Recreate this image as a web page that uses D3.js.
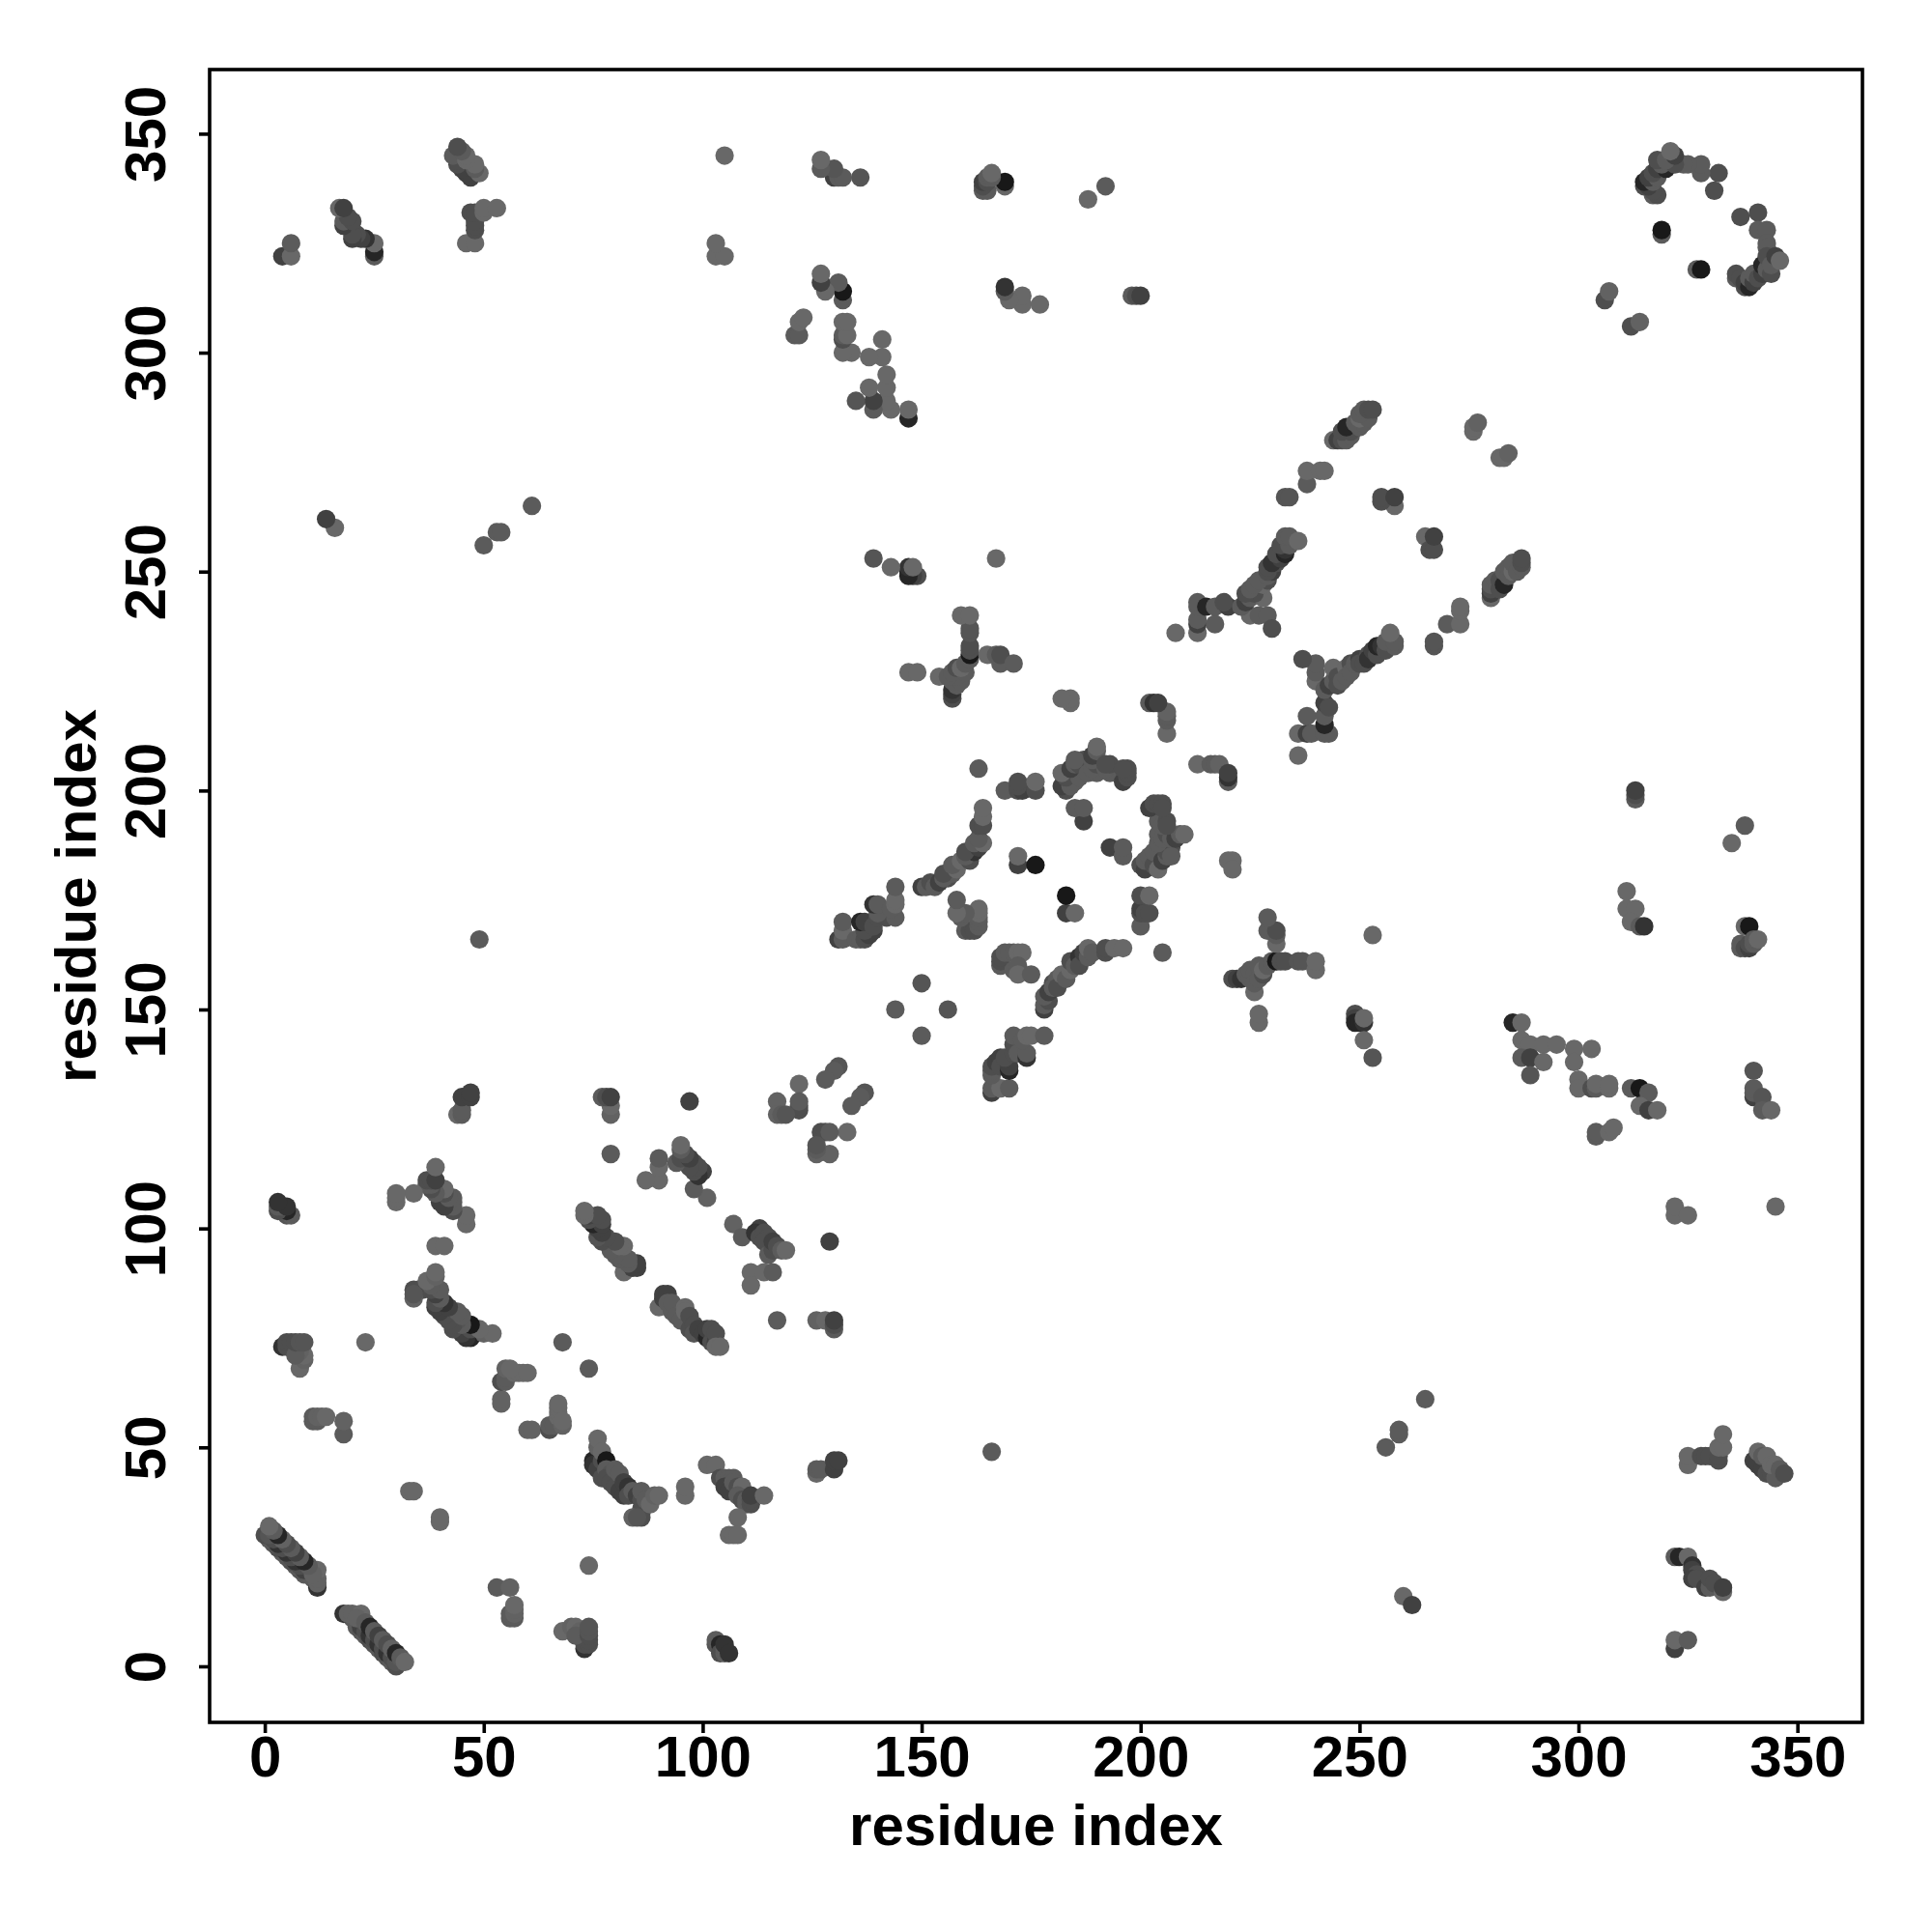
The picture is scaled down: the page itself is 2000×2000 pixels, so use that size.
<!DOCTYPE html>
<html><head><meta charset="utf-8">
<script src="https://cdn.jsdelivr.net/npm/d3@7/dist/d3.min.js"></script>
<style>html,body{margin:0;padding:0;background:#fff}svg{display:block}
text{font-family:"Liberation Sans",Arial,sans-serif;font-weight:bold;fill:#000}</style>
</head><body>
<script>
// contacts: [residue a, residue b, contact strength 1 (weak) .. 9 (strong)]
const hairpinA = [[21,9,3],[22,8,4],[23,7,3],[24,6,5],[25,5,4],[26,4,3],[27,3,5],[28,2,4],[29,1,3],[30,0,5],
 [20,11,3],[21,10,3],[22,9,6],[23,8,5],[24,7,7],[25,6,5],[26,5,7],[27,4,5],[28,3,7],[29,2,5],[30,1,4],
 [18,12,7],[19,12,2],[20,12,2],[22,12,1],[21,11,2],[23,10,3],[24,9,8],[25,8,3],[26,7,6],[27,6,3],[28,5,5],[29,4,2],[30,3,8],[31,2,3],[32,1,1]];
const tailA = [[103,5,4],[103,6,3],[104,5,8],[104,3,5],[105,3,3],[105,4,3],[105,5,7],[106,3,7],
 [73,4,7],[73,5,5],[74,5,5],[74,6,5],[68,8,1],[70,9,2],[71,9,1],[72,8,2],[71,7,3],[74,7,5],[74,8,4],[74,9,4],[74,23,1],
 [53,18,3],[56,18,2],[56,11,3],[57,11,3],[56,12,3],[57,12,2],[57,13,2],[57,14,1],[40,33,1],[40,34,1]];
const sheetB = [[75,47,8],[75,46,7],[76,45,6],[77,47,5],[76,50,2],[76,52,1],[77,49,1],[78,47,9],[77,43,5],[78,45,3],[79,44,4],[78,43,5],[79,42,5],[80,41,5],[81,40,6],[82,39,6],[80,45,3],[81,44,3],[82,42,6],[83,41,7],[83,39,5],[84,40,3],[85,39,6],[86,38,5],[86,36,5],[86,35,5],[84,34,2],[86,34,5],[85,34,4],[86,40,3],[87,38,3],[88,37,1],[89,39,2],[90,39,1],[96,39,1],[96,41,1]];
const sheetC = [[60,54,2],[61,54,2],[65,54,5],[65,55,3],[66,55,3],[67,57,1],[67,58,1],[67,59,1],[67,60,1],[68,55,2],[68,56,1],[74,68,3]];
const sheetD = [[90,82,1],[91,84,6],[91,85,6],[92,85,6],[92,83,3],[93,81,3],[93,83,3],[94,80,3],[95,79,3],[96,82,1],[96,81,1],[97,79,3],[97,77,5],[97,80,5],[98,78,5],[98,76,4],[99,77,6],[100,76,6],[101,75,8],[101,77,6],[102,74,5],[102,77,5],[103,74,6],[103,76,5],[103,73,1],[104,73,1]];
const sheetE = [[107,101,2],[109,98,3],[113,100,6],[112,99,7],[113,98,5],[114,99,5],[115,98,5],[114,97,5],[115,94,3],[116,95,5],[116,97,6],[117,96,5],[118,95,3],[119,95,1],[111,90,1],[114,90,1],[116,90,3],[111,87,1],[117,79,3],[126,79,2],[128,79,1],[130,77,3],[130,78,5],[130,79,6],[129,97,6],[126,44,1],[126,45,3],[127,45,3],[130,45,6],[130,47,6],[131,47,6],[166,49,3]];
const sheetF = [[101,46,1],[103,46,1],[104,43,5],[105,43,3],[106,43,3],[107,43,3],[105,41,6],[106,40,6],[107,42,3],[108,41,5],[109,41,1],[108,39,3],[109,38,5],[110,38,3],[110,37,3],[111,37,5],[111,38,5],[111,39,6],[114,39,1],[108,34,1],[106,30,1],[107,30,1],[108,30,1]];
const farBottom = [[265,61,3],[259,53,3],[259,54,3],[256,50,3],[260,16,1],[262,14,6],
 [325,46,1],[325,48,1],[328,48,5],[329,48,5],[330,48,5],[332,47,5],[332,48,5],[332,50,1],[333,50,1],[333,53,1],
 [340,47,6],[341,46,6],[342,45,6],[343,44,5],[344,44,5],[345,43,3],[341,49,1],[342,48,3],[343,48,1],[344,46,1],[345,46,1],[346,45,3],[347,44,5],
 [322,25,3],[323,25,8],[325,25,1],[326,23,7],[326,22,6],[327,21,5],[326,20,6],[327,20,5],[329,18,6],[330,18,3],[330,20,5],[331,19,5],[333,17,1],[333,18,6],
 [322,4,6],[322,6,1],[325,6,3]];
const smallBlock = [[137,131,4],[136,130,3],[134,128,3],[133,122,1],[127,122,5],[128,122,5],[129,122,3],[129,117,2],[126,117,2],[126,118,3],[126,119,4],[150,144,3],[156,150,4]];
const strandG = [[166,131,6],[166,132,3],[168,132,1],[170,132,3],[166,135,3],[166,136,3],[166,137,5],[167,138,6],[168,139,6],[168,137,5],[170,136,8],[170,137,6],[169,139,5],[171,140,5],[171,142,5],[172,140,3],[174,139,7],[174,140,3],[171,144,3],[173,143,3],[174,144,1],[175,144,1],[178,144,3]];
const strandH = [[178,150,6],[178,151,3],[179,152,5],[178,153,3],[179,154,6],[180,156,5],[180,155,3],[181,157,3],[181,155,5],[182,158,1],[183,157,3],[184,159,1],[184,161,5],[185,160,3],[186,162,7],[186,160,5],[187,163,6],[188,162,3],[188,164,1],[189,163,3],[192,163,5],[192,164,5],[194,164,1],[196,164,1],[205,163,3]];
const ringA = [[168,160,3],[168,161,5],[168,162,5],[169,163,3],[170,163,3],[171,163,3],[172,163,1],[173,163,1],[171,159,3],[172,160,3],[172,158,1],[175,158,3],
 [183,172,6],[185,172,1],[183,176,9],[200,169,3],[200,172,5],[200,173,6],[201,172,5],[202,172,5],[200,176,5],[202,176,1],[193,187,6],[196,185,3],[196,187,3]];
const ringB = [[200,183,5],[201,182,6],[201,184,3],[202,185,3],[203,183,5],[203,186,3],[204,182,1],[205,184,6],[206,185,3],[206,186,5],[207,187,5],[207,185,3],
 [204,188,3],[204,190,3],[205,189,3],[206,190,5],[207,189,3],[208,189,6],[209,190,3],[210,190,1],
 [204,193,3],[205,192,3],[206,193,5],[206,192,5],[202,196,6],[203,197,5],[204,197,5],[205,197,5],[205,196,5]];
const crossA = [[213,206,1],[216,206,3],[217,206,3],[218,206,2],[220,202,3],[220,203,7],[220,204,6],[220,184,1],[221,184,1],[221,182,1],
 [226,154,1],[221,157,5],[222,157,6],[223,157,7],[224,158,3],[225,157,3],[225,159,3],[226,158,3],[226,156,3],[227,157,3],[228,158,5],[227,160,3],[228,159,1],[229,160,3],[230,161,3],[231,161,9],[232,161,5],[233,161,5],[236,161,4],[237,161,4],[240,159,1],[240,161,1],
 [231,165,1],[229,168,3],[231,167,3],[231,168,5],[229,171,3],[227,147,1],[227,149,1],[253,167,1]];
const rightA = [[249,149,5],[249,148,6],[249,147,8],[250,147,8],[251,147,7],[251,148,1],[251,143,1],[253,139,4],
 [285,147,8],[287,147,1],[287,143,1],[289,142,1],[292,142,1],[295,142,1],[299,141,1],[303,141,1],[299,138,1],[287,139,3],[289,139,6],[292,138,1],[289,135,4],
 [300,134,1],[300,132,1],[303,132,5],[304,132,3],[304,133,1],[307,132,1],[307,133,1],[312,132,3],[314,132,9],[316,131,3],[314,128,1],[316,127,6],[318,127,1],
 [304,121,3],[304,122,3],[307,122,1],[308,123,1],[340,136,4],[340,130,6],[340,131,3],[340,132,3],[342,130,4],[342,127,3],[344,127,1],
 [322,103,1],[322,105,1],[325,103,1],[345,105,1]];
const rightB = [[313,198,3],[313,199,5],[313,200,6],[338,192,3],[335,188,1],[311,177,1],[311,173,1],[313,173,1],[312,170,1],[314,169,3],[315,169,7],
 [338,169,1],[339,169,9],[337,164,3],[337,165,3],[338,164,5],[339,164,6],[339,165,5],[340,165,3],[340,166,3],[341,166,1]];
const strandJ = [[236,208,1],[236,213,1],[238,213,6],[239,213,3],[238,217,3],[242,213,3],[243,213,3],[242,215,8],[242,217,3],[242,220,6],[243,219,5],[240,225,1],[240,227,3],[240,229,3],[237,230,5],[242,223,3],[243,224,6],[244,225,3],[244,228,1],[245,226,5],[245,224,5],[246,225,3],[247,228,1],[247,226,3],[248,229,5],[248,227,3],[249,229,3],[250,230,6],[250,229,5],[251,229,5],[252,231,5],[252,230,7],[253,232,6],[254,231,5],[254,233,8],[255,233,7],[256,232,5],[256,234,3],[258,233,3],[258,234,3],[257,236,1]];
const strandK = [[267,233,4],[267,234,4],[270,238,3],[273,238,1],[273,241,1],[273,242,1],[265,258,1],[266,255,5],[267,255,5],[267,258,6],
 [280,244,1],[280,245,6],[280,246,5],[280,247,3],[281,248,3],[282,246,5],[282,248,5],[283,247,8],[283,250,3],[284,249,3],[284,251,3],[285,250,1],[285,252,3],[286,250,3],[287,251,3],[287,252,5],[287,253,5],[282,276,1],[283,276,1],[284,277,2]];
const arcM = [[312,306,5],[314,307,2],[327,319,3],[328,319,9],[337,331,5],[341,332,5],[341,328,3],[343,328,3],[343,325,3],[343,324,3],[336,317,3],[336,318,5],[337,317,5],[338,315,5],[338,316,6],[339,315,8],[339,317,3],[340,316,6],[340,318,3],[341,317,5],[342,318,6],[342,320,8],[343,319,3],[343,322,5],[344,318,5],[344,320,3],[345,322,6],[346,321,1]];

const contacts = [hairpinA,tailA,sheetB,sheetC,sheetD,sheetE,sheetF,farBottom,smallBlock,strandG,strandH,ringA,ringB,crossA,rightA,rightB,strandJ,strandK,arcM];
const tickValues = [0,50,100,150,200,250,300,350];
const axisTitle = "residue index";

const svg = d3.select("body").append("svg").attr("width",2000).attr("height",2000);
const L=217,R=1928,T=72,B=1783;
const x = d3.scaleLinear().domain([-12.6,364.85]).range([L,R]);
const y = d3.scaleLinear().domain([-12.8,364.65]).range([B,T]);
const grey = d3.scaleLinear().domain([1,5,9]).range([104,78,24]);
const col = s => { const g=Math.round(grey(s)); return `rgb(${g},${g},${g})`; };

// symmetric map: each contact is drawn at (a,b) and (b,a)
const pts = [];
contacts.forEach(g => g.forEach(([a,b,s]) => { pts.push({a,b,s}); }));
svg.append("g").selectAll("circle.m").data(pts).join("circle").attr("class","m")
  .attr("cx",d=>x(d.b)).attr("cy",d=>y(d.a)).attr("r",9.6).attr("fill",d=>col(d.s));
svg.append("g").selectAll("circle.l").data(pts).join("circle").attr("class","l")
  .attr("cx",d=>x(d.a)).attr("cy",d=>y(d.b)).attr("r",9.6).attr("fill",d=>col(d.s));

svg.append("rect").attr("x",L).attr("y",T).attr("width",R-L).attr("height",B-T)
  .attr("fill","none").attr("stroke","#000").attr("stroke-width",3.6);

const ax = svg.append("g").attr("transform",`translate(0,${B})`)
  .call(d3.axisBottom(x).tickValues(tickValues).tickSize(11).tickFormat(d3.format("d")));
ax.select(".domain").remove();
ax.selectAll("line").attr("stroke","#000").attr("stroke-width",3.6);
ax.selectAll("text").attr("y",56).attr("dy",0).attr("font-size",60).attr("font-family",null);

const ay = svg.append("g").attr("transform",`translate(${L},0)`)
  .call(d3.axisLeft(y).tickValues(tickValues).tickSize(11).tickFormat(d3.format("d")));
ay.select(".domain").remove();
ay.selectAll("line").attr("stroke","#000").attr("stroke-width",3.6);
ay.selectAll("text").attr("x",null).attr("dy",0).attr("font-size",60)
  .attr("text-anchor","middle").attr("transform","translate(-46,0) rotate(-90)");

svg.append("text").attr("x",(L+R)/2).attr("y",1910).attr("text-anchor","middle").attr("font-size",60).text(axisTitle);
svg.append("text").attr("transform",`translate(99,${(T+B)/2}) rotate(-90)`).attr("text-anchor","middle").attr("font-size",60).text(axisTitle);
</script>
</body></html>
